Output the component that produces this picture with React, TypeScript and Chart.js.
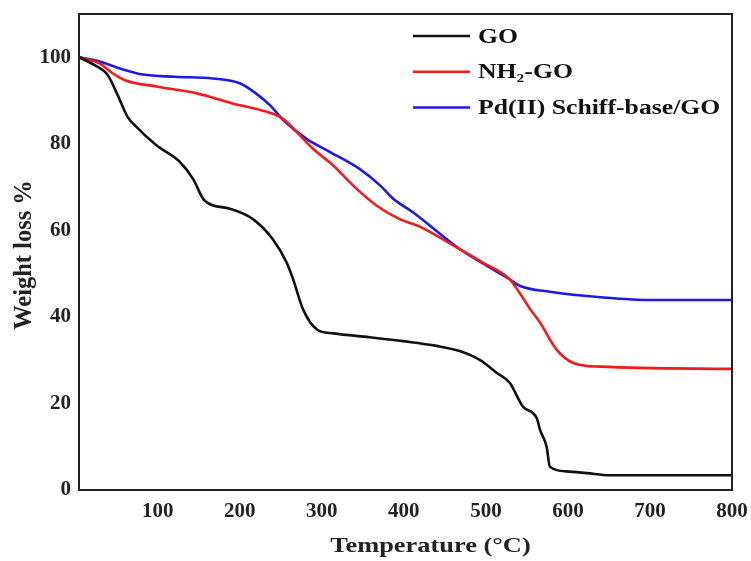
import React, { useEffect, useRef } from "react";
import { Chart, registerables } from "chart.js";

Chart.register(...registerables);

// Temperature (°C) and weight (%) readings for each sample
const goTemp = [4, 23, 39, 51, 63, 74, 98, 127, 143, 157, 188, 216, 240, 257, 265, 277, 294, 314, 358, 399, 440, 468, 493, 513, 529, 545, 562, 566, 574, 578, 598, 623, 651, 800];
const goWeight = [100, 98.2, 95.9, 91.3, 86.3, 83.9, 79.7, 75.8, 71.9, 66.9, 65, 62.6, 58, 52.6, 48.7, 41.8, 37.1, 36.2, 35.3, 34.4, 33.3, 32.1, 30, 27.1, 24.8, 19.3, 16.6, 13.9, 10, 5.4, 4.3, 3.9, 3.4, 3.4];

const nh2Temp = [4, 29, 45, 60, 100, 149, 190, 233, 249, 257, 289, 314, 338, 367, 395, 420, 464, 496, 529, 541, 554, 566, 586, 606, 639, 800];
const nh2Weight = [100, 98.6, 96.3, 94.7, 93.2, 91.6, 89.4, 87.4, 86.2, 85.1, 78.9, 75, 70.4, 65.7, 62.6, 60.8, 56.1, 52.6, 48.7, 45.6, 41.8, 38.7, 32.5, 29.4, 28.5, 28];

const pdTemp = [4, 29, 54, 82, 121, 167, 200, 220, 237, 253, 281, 310, 346, 371, 387, 411, 468, 505, 529, 541, 578, 643, 704, 800];
const pdWeight = [100, 99, 97.4, 96, 95.5, 95.1, 94, 91.6, 88.9, 85.5, 81.2, 78.1, 74.2, 70.4, 67.3, 64.2, 55.7, 51.4, 48.7, 47.2, 45.8, 44.5, 43.9, 43.9];

const seriesLabels = ["GO", "NH\u2082-GO", "Pd(II) Schiff-base/GO"];
const seriesColors = ["#111111", "#f21a1a", "#1a1ae0"];

const xTicks = [100, 200, 300, 400, 500, 600, 700, 800];
const yTicks = [0, 20, 40, 60, 80, 100];

const xTitle = "Temperature (\u00B0C)";
const yTitle = "Weight loss %";

const FONT = "'Liberation Serif', 'Times New Roman', serif";

function toPoints(xs: number[], ys: number[]) {
  return xs.map((x, i) => ({ x, y: ys[i] }));
}

const framePlugin = {
  id: "frame",
  afterDatasetsDraw(chart: any) {
    const { ctx, chartArea } = chart;
    ctx.save();
    ctx.strokeStyle = "#222";
    ctx.lineWidth = 2;
    ctx.strokeRect(chartArea.left, chartArea.top, chartArea.right - chartArea.left, chartArea.bottom - chartArea.top);
    ctx.restore();
  },
};

const titlesPlugin = {
  id: "stretchedTitles",
  afterDraw(chart: any) {
    const { ctx, chartArea } = chart;
    ctx.save();
    ctx.fillStyle = "#222";
    ctx.textAlign = "center";
    ctx.textBaseline = "middle";
    // x title
    ctx.save();
    ctx.font = `bold 22px ${FONT}`;
    ctx.translate((chartArea.left + chartArea.right) / 2 + 25, chartArea.bottom + 56);
    ctx.scale(1.2, 1);
    ctx.fillText(xTitle, 0, 0);
    ctx.restore();
    // y title
    ctx.save();
    ctx.font = `bold 24px ${FONT}`;
    ctx.translate(24, 255);
    ctx.rotate(-Math.PI / 2);
    ctx.scale(1.02, 1.05);
    ctx.fillText(yTitle, 0, 0);
    ctx.restore();
    ctx.restore();
  },
};

const legendPlugin = {
  id: "customLegend",
  afterDraw(chart: any) {
    const { ctx, chartArea } = chart;
    ctx.save();
    const x0 = chartArea.right - 319;
    const lineLen = 57;
    chart.data.datasets.forEach((ds: any, i: number) => {
      const y = chartArea.top + 22 + i * 35.7;
      ctx.strokeStyle = ds.borderColor;
      ctx.lineWidth = 2.5;
      ctx.beginPath();
      ctx.moveTo(x0, y);
      ctx.lineTo(x0 + lineLen, y);
      ctx.stroke();
      ctx.save();
      ctx.fillStyle = "#111";
      ctx.font = `bold 22px ${FONT}`;
      ctx.textBaseline = "middle";
      ctx.textAlign = "left";
      ctx.translate(x0 + lineLen + 8, y + 1);
      ctx.scale(1.17, 1);
      ctx.fillText(ds.label, 0, 0);
      ctx.restore();
    });
    ctx.restore();
  },
};

export default function App() {
  const canvasRef = useRef<HTMLCanvasElement | null>(null);

  useEffect(() => {
    document.body.style.margin = "0";
    const canvas = canvasRef.current;
    if (!canvas) return;
    const chart = new Chart(canvas, {
      type: "line",
      data: {
        datasets: [
          { label: seriesLabels[0], data: toPoints(goTemp, goWeight), borderColor: seriesColors[0] },
          { label: seriesLabels[1], data: toPoints(nh2Temp, nh2Weight), borderColor: seriesColors[1] },
          { label: seriesLabels[2], data: toPoints(pdTemp, pdWeight), borderColor: seriesColors[2] },
        ].map((d) => ({
          ...d,
          borderWidth: 2.6,
          pointRadius: 0,
          fill: false,
          cubicInterpolationMode: "monotone" as const,
        })),
      },
      options: {
        animation: false,
        responsive: false,
        maintainAspectRatio: false,
        layout: { padding: { top: 14, right: 19, left: 0, bottom: 0 } },
        plugins: { legend: { display: false }, tooltip: { enabled: false } },
        scales: {
          x: {
            type: "linear",
            min: 4,
            max: 800,
            grid: { display: false, drawTicks: false },
            border: { display: false },
            afterBuildTicks: (s: any) => {
              s.ticks = xTicks.map((v) => ({ value: v }));
            },
            afterFit: (s: any) => {
              s.height = 71;
              s.paddingLeft = 0;
              s.paddingRight = 0;
            },
            ticks: { font: { family: FONT, size: 21, weight: "bold" }, color: "#222", padding: 9, maxRotation: 0 },
            title: { display: false, text: xTitle },
          },
          y: {
            type: "linear",
            min: 0,
            max: 110,
            grid: { display: false, drawTicks: false },
            border: { display: false },
            afterBuildTicks: (s: any) => {
              s.ticks = yTicks.map((v) => ({ value: v }));
            },
            afterFit: (s: any) => {
              s.width = 79;
              s.paddingTop = 0;
              s.paddingBottom = 0;
            },
            ticks: { font: { family: FONT, size: 21, weight: "bold" }, color: "#222", padding: 8 },
            title: { display: false, text: yTitle },
          },
        },
      },
      plugins: [framePlugin, titlesPlugin, legendPlugin],
    });
    return () => chart.destroy();
  }, []);

  return (
    <div style={{ width: 751, height: 561 }}>
      <canvas ref={canvasRef} width={751} height={561} style={{ display: "block" }} />
    </div>
  );
}
